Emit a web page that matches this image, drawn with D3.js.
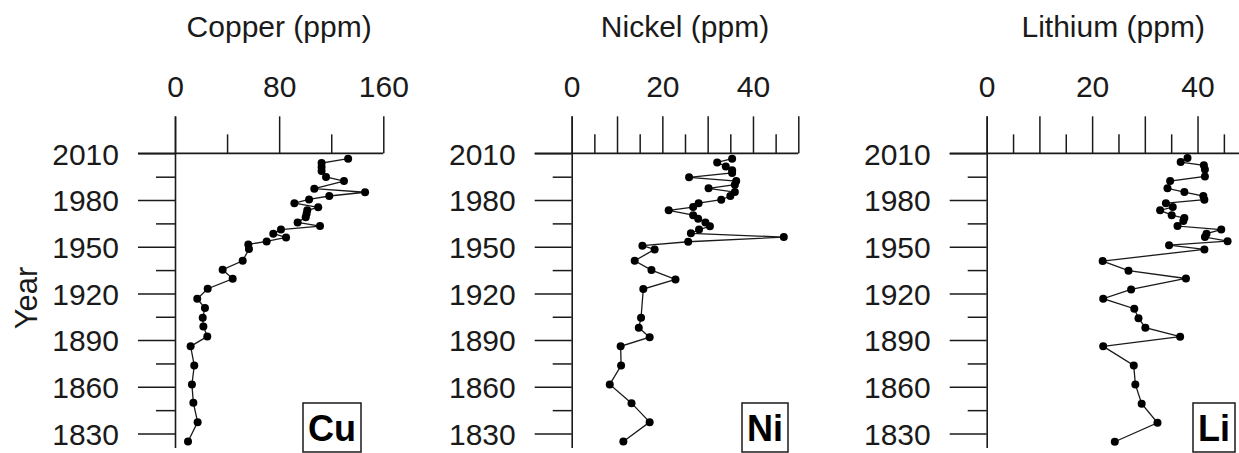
<!DOCTYPE html>
<html>
<head>
<meta charset="utf-8">
<script src="https://cdn.jsdelivr.net/npm/d3@7"></script>
<style>
  body { margin: 0; background: #fff; }
  svg { display: block; font-family: "Liberation Sans", Arial, sans-serif; }
</style>
</head>
<body>
<svg id="chart" width="1239" height="453"></svg>
<script>
// core sample data (year, ppm)
var cuYears = [2006.6,2003.8,2001.2,1998.6,1994.8,1992.2,1987.3,1985,1982.6,1980.4,1978,1975.3,1973.4,1971.2,1969,1965.6,1963.3,1961,1958.4,1956,1953.4,1951.5,1948.5,1941,1935.2,1929.4,1923,1916.6,1910.6,1904.4,1898.8,1892.4,1886,1873.7,1861.5,1849.7,1837.3,1824.9];
var cuValues = [133,112.6,112.6,112.6,116,129.8,107,146,118.5,103,91.7,110,101.6,101.1,100.4,94.2,111.4,81.4,75.5,85.3,70.4,56.3,56.8,52,36.6,44.3,25.1,17.1,23,21.3,21.8,24.8,12,14.8,13,14.1,17.4,10];

var niYears = [2006.6,2004.2,2001.6,1999.1,1997.4,1994.6,1992.2,1989.9,1987.5,1985.1,1982.6,1980.2,1978,1975.5,1973.4,1970.3,1968,1965.6,1963.1,1961,1958.6,1956.2,1953.2,1950.7,1948.3,1941,1935,1929,1922.8,1904.4,1898,1891.9,1886,1873.7,1861.5,1849.5,1837.3,1824.9];
var niValues = [35.4,32.1,34,35.4,35.4,25.9,36.3,36,30.2,36,35,33,28,26.8,21.4,26.8,27.9,29.5,30.5,28.1,26.3,46.8,25.7,15.6,18.3,13.9,17.6,22.9,15.8,15.3,14.8,17.2,10.8,10.9,8.4,13.2,17.2,11.4];

var liYears = [2007,2004.4,2002.3,1999.7,1995.2,1992.2,1987.5,1985.1,1982.6,1980.2,1978,1975.5,1973.4,1970.3,1968.4,1966.5,1963.3,1961,1958.4,1956.2,1953.6,1951,1948.3,1940.8,1934.6,1929.6,1922.6,1916.6,1910.2,1904.1,1898,1892.2,1886,1873.7,1861.5,1849.1,1836.9,1824.7];
var liValues = [38.1,36.8,41.2,41.4,41.4,34.8,34.3,37.5,41.1,41.3,34,35.3,32.9,35.1,37.5,37.3,36.2,44.5,41.7,41.4,45.7,34.6,41.3,22,26.9,37.8,27.4,22.1,28,28.8,30.1,36.7,22.1,27.9,28.2,29.4,32.4,24.3];

// tick values
var yearMajor = [1830,1860,1890,1920,1950,1980,2010];
var yearMinor = [1845,1875,1905,1935,1965,1995];
var cuMajor = [0,80,160], cuMinor = [40,120], cuLabels = [0,80,160];
var niMajor = [0,10,20,30,40,50], niMinor = [5,15,25,35,45], niLabels = [0,20,40];
var liMajor = [0,10,20,30,40], liMinor = [5,15,25,35,45], liLabels = [0,20,40];

var panels = [
  {title: "Copper (ppm)", symbol: "Cu", years: cuYears, values: cuValues, max: 160, x0: 175, x1: 383.3,
   major: cuMajor, minor: cuMinor, labels: cuLabels, boxRight: 361},
  {title: "Nickel (ppm)", symbol: "Ni", years: niYears, values: niValues, max: 50, x0: 571.7, x1: 798.3,
   major: niMajor, minor: niMinor, labels: niLabels, boxRight: 788},
  {title: "Lithium (ppm)", symbol: "Li", years: liYears, values: liValues, max: 48, x0: 986.7, x1: 1239.7,
   major: liMajor, minor: liMinor, labels: liLabels, boxRight: 1235}
];

var ink = "#1a1a1a";
var svg = d3.select("#chart");
var y = d3.scaleLinear().domain([1821, 2034]).range([447.5, 116]);
var topY = y(2010);

svg.append("text")
  .attr("transform", "translate(26,298) rotate(-90)")
  .attr("text-anchor", "middle")
  .attr("dy", "0.35em")
  .style("font-size", "31px")
  .attr("fill", ink)
  .text("Year");

panels.forEach(function(p) {
  var x = d3.scaleLinear().domain([0, p.max]).range([p.x0, p.x1]);
  var g = svg.append("g");

  // title
  g.append("text")
    .attr("x", (p.x0 + p.x1) / 2).attr("y", 37)
    .attr("text-anchor", "middle")
    .style("font-size", "30px")
    .attr("fill", ink)
    .text(p.title);

  // top axis: long major ticks, short minor ticks
  var ax = g.append("g").attr("transform", "translate(0," + topY + ")");
  ax.call(d3.axisTop(x).tickValues(p.major).tickSize(37).tickPadding(19)
    .tickFormat(function(d) { return p.labels.indexOf(d) >= 0 ? d : ""; }));
  ax.append("g").call(d3.axisTop(x).tickValues(p.minor).tickSize(19).tickFormat(""));
  ax.selectAll(".domain").remove();
  ax.append("line")
    .attr("x1", x(0) - 37).attr("x2", x.range()[1])
    .attr("stroke", ink).attr("stroke-width", 1.6);

  // left year axis
  var ay = g.append("g").attr("transform", "translate(" + x(0) + ",0)");
  ay.call(d3.axisLeft(y).tickValues(yearMajor).tickSize(37).tickSizeOuter(0).tickPadding(19)
    .tickFormat(d3.format("d")));
  ay.append("g").call(d3.axisLeft(y).tickValues(yearMinor).tickSize(19).tickFormat(""))
    .select(".domain").remove();

  g.selectAll(".tick line").attr("stroke", ink).attr("stroke-width", 1.5);
  g.selectAll(".domain").attr("stroke", ink).attr("stroke-width", 1.6);
  g.selectAll(".tick text").style("font-size", "30px").attr("fill", ink)
    .attr("font-family", "'Liberation Sans', Arial, sans-serif");
  ay.selectAll(".tick text").attr("dy", "0.36em");

  // series
  var pts = p.years.map(function(yr, i) { return {year: yr, v: p.values[i]}; });
  g.append("path")
    .datum(pts)
    .attr("fill", "none")
    .attr("stroke", ink)
    .attr("stroke-width", 1.3)
    .attr("d", d3.line().x(function(d) { return x(d.v); }).y(function(d) { return y(d.year); }));
  g.selectAll("circle.pt")
    .data(pts)
    .enter().append("circle")
    .attr("class", "pt")
    .attr("cx", function(d) { return x(d.v); })
    .attr("cy", function(d) { return y(d.year); })
    .attr("r", 4)
    .attr("fill", "#000");

  // element symbol box
  var box = g.append("rect");
  var lbl = g.append("text")
    .attr("text-anchor", "middle")
    .attr("y", 441)
    .style("font-size", "36px")
    .style("font-weight", "bold")
    .attr("fill", "#000")
    .text(p.symbol);
  var w = lbl.node().getComputedTextLength() + 10;
  lbl.attr("x", p.boxRight - w / 2);
  box.attr("x", p.boxRight - w).attr("y", 403)
    .attr("width", w).attr("height", 49)
    .attr("fill", "#fff")
    .attr("stroke", ink).attr("stroke-width", 1.5);
});
</script>
</body>
</html>
